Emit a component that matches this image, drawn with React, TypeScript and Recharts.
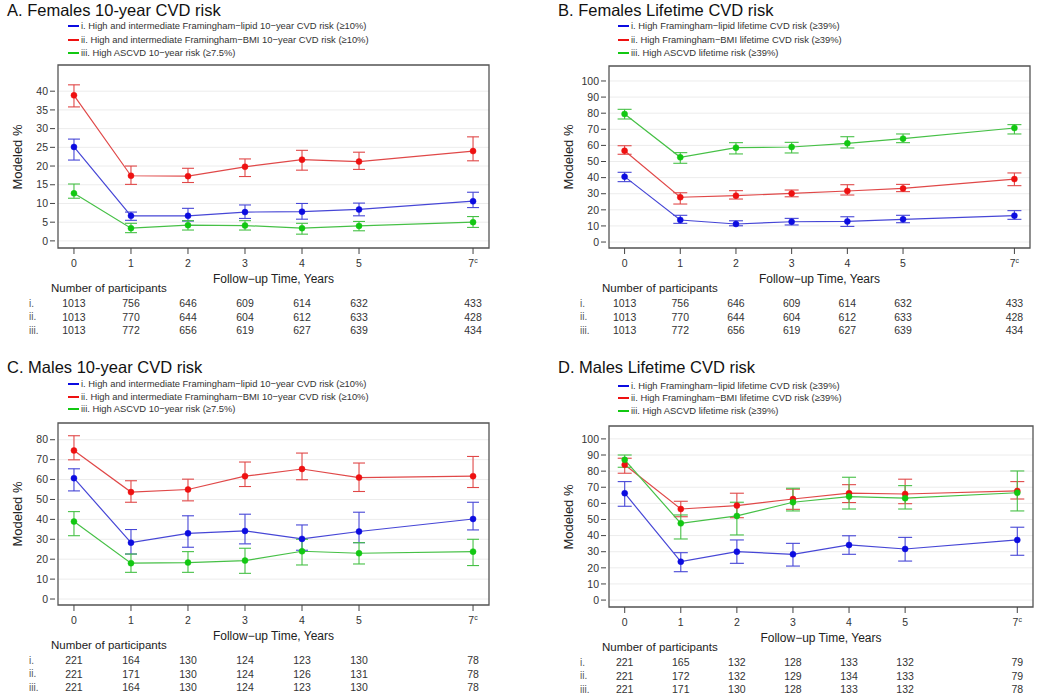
import React from "react";
import { LineChart, Line, XAxis, YAxis, CartesianGrid, ErrorBar, ReferenceArea } from "recharts";

const years = [0, 1, 2, 3, 4, 5, 7];

// A. Females 10-year
const aLipid = [25.1, 6.7, 6.7, 7.7, 7.8, 8.4, 10.6];
const aLipidLo = [21.6, 5.5, 5.3, 6.0, 5.8, 6.7, 8.9];
const aLipidHi = [27.2, 7.7, 8.7, 9.6, 10.0, 10.1, 13.0];
const aBmi = [38.9, 17.4, 17.3, 19.8, 21.7, 21.2, 24.0];
const aBmiLo = [35.8, 15.1, 15.6, 17.2, 18.9, 19.1, 21.4];
const aBmiHi = [41.7, 20.0, 19.4, 21.9, 24.2, 23.7, 27.8];
const aAscvd = [12.7, 3.4, 4.2, 4.1, 3.4, 4.0, 5.0];
const aAscvdLo = [11.4, 2.2, 2.9, 2.9, 1.8, 2.7, 3.6];
const aAscvdHi = [15.2, 4.7, 5.4, 5.4, 4.7, 5.2, 6.5];

// B. Females lifetime
const bLipid = [40.6, 13.7, 11.2, 12.6, 12.8, 14.1, 16.4];
const bLipidLo = [37.5, 11.6, 10.1, 10.6, 9.7, 12.0, 14.1];
const bLipidHi = [43.3, 16.6, 13.2, 14.7, 15.7, 16.6, 19.5];
const bBmi = [56.7, 27.8, 28.8, 30.2, 31.7, 33.3, 39.1];
const bBmiLo = [54.5, 23.6, 26.7, 28.1, 29.2, 31.3, 35.0];
const bBmiHi = [59.8, 30.6, 31.9, 32.3, 35.6, 35.8, 42.9];
const bAscvd = [79.5, 52.6, 58.6, 59.0, 61.3, 64.2, 70.8];
const bAscvdLo = [76.4, 48.9, 54.7, 55.3, 58.4, 61.7, 67.1];
const bAscvdHi = [82.4, 55.5, 61.7, 61.9, 65.4, 67.1, 72.9];

// C. Males 10-year
const cLipid = [60.7, 28.3, 33.0, 34.2, 30.2, 33.9, 40.2];
const cLipidLo = [54.3, 22.6, 26.0, 27.7, 24.5, 28.3, 34.7];
const cLipidHi = [65.4, 34.9, 41.8, 42.6, 37.2, 43.6, 48.6];
const cBmi = [74.6, 53.7, 55.0, 61.7, 65.3, 61.0, 61.7];
const cBmiLo = [69.9, 48.6, 49.3, 56.5, 59.9, 54.0, 56.0];
const cBmiHi = [82.0, 59.4, 60.2, 68.8, 73.3, 68.3, 71.6];
const cAscvd = [38.9, 18.0, 18.3, 19.3, 24.0, 23.0, 23.8];
const cAscvdLo = [31.8, 13.4, 13.4, 12.9, 17.1, 17.6, 16.8];
const cAscvdHi = [43.9, 22.6, 23.8, 25.5, 30.0, 28.3, 30.0];

// D. Males lifetime
const dLipid = [66.3, 23.8, 30.0, 28.4, 34.2, 31.7, 37.3];
const dLipidLo = [58.2, 17.6, 22.8, 21.1, 28.4, 24.2, 27.8];
const dLipidHi = [73.5, 29.4, 37.3, 35.2, 39.9, 38.9, 45.2];
const dBmi = [83.9, 56.5, 58.6, 62.7, 66.3, 65.8, 67.7];
const dBmiLo = [78.7, 51.7, 51.1, 56.3, 60.5, 59.8, 62.7];
const dBmiHi = [88.0, 61.3, 66.3, 68.8, 71.6, 75.0, 73.5];
const dAscvd = [87.0, 47.6, 52.2, 60.7, 64.2, 63.2, 66.6];
const dAscvdLo = [82.4, 37.9, 40.4, 55.3, 56.5, 56.5, 55.3];
const dAscvdHi = [90.0, 52.8, 60.7, 69.4, 76.2, 71.0, 80.1];

// participants per row (i, ii, iii)
const femaleN = [
  [1013, 756, 646, 609, 614, 632, 433],
  [1013, 770, 644, 604, 612, 633, 428],
  [1013, 772, 656, 619, 627, 639, 434],
];
const maleTenN = [
  [221, 164, 130, 124, 123, 130, 78],
  [221, 171, 130, 124, 126, 131, 78],
  [221, 164, 130, 124, 123, 130, 78],
];
const maleLifeN = [
  [221, 165, 132, 128, 133, 132, 79],
  [221, 172, 132, 129, 134, 133, 79],
  [221, 171, 130, 128, 133, 132, 78],
];

const tenYearLabels = [
  "i. High and intermediate Framingham\u2212lipid 10\u2212year CVD risk (\u226510%)",
  "ii. High and intermediate Framingham\u2212BMI 10\u2212year CVD risk (\u226510%)",
  "iii. High ASCVD 10\u2212year risk (\u22657.5%)",
];
const lifetimeLabels = [
  "i. High Framingham\u2212lipid lifetime CVD risk (\u226539%)",
  "ii. High Framingham\u2212BMI lifetime CVD risk (\u226539%)",
  "iii. High ASCVD lifetime risk (\u226539%)",
];
const rowNames = ["i.", "ii.", "iii."];

const ticks0to40 = [0, 5, 10, 15, 20, 25, 30, 35, 40];
const ticks0to80 = [0, 10, 20, 30, 40, 50, 60, 70, 80];
const ticks0to100 = [0, 10, 20, 30, 40, 50, 60, 70, 80, 90, 100];

const lineColors = ["#4646d6", "#e04848", "#46c046"];
const dotColors = ["#0c0ce0", "#ee1111", "#12c812"];
const FONT = "'Liberation Sans', Arial, Helvetica, sans-serif";

type Series = { v: number[]; lo: number[]; hi: number[] };

const build = (series: Series[]) =>
  years.map((t, i) => {
    const row: any = { t };
    series.forEach((s, k) => {
      row["s" + k] = s.v[i];
      row["e" + k] = [s.v[i] - s.lo[i], s.hi[i] - s.v[i]];
    });
    return row;
  });

const panels = [
  {
    title: "A. Females 10-year CVD risk", tx: 7, ty: 10, bx: 58, by: 65, bw: 431, bh: 183,
    yDomain: [-1.9, 47], yTicks: ticks0to40, cap: 6, labels: tenYearLabels, counts: femaleN,
    legX: 68, legY: [26, 39.5, 52.5],
    series: [
      { v: aLipid, lo: aLipidLo, hi: aLipidHi },
      { v: aBmi, lo: aBmiLo, hi: aBmiHi },
      { v: aAscvd, lo: aAscvdLo, hi: aAscvdHi },
    ],
  },
  {
    title: "B. Females Lifetime CVD risk", tx: 558, ty: 10, bx: 609, by: 66, bw: 421, bh: 182,
    yDomain: [-3.7, 109.3], yTicks: ticks0to100, cap: 7, labels: lifetimeLabels, counts: femaleN,
    legX: 618, legY: [26, 40, 53],
    series: [
      { v: bLipid, lo: bLipidLo, hi: bLipidHi },
      { v: bBmi, lo: bBmiLo, hi: bBmiHi },
      { v: bAscvd, lo: bAscvdLo, hi: bAscvdHi },
    ],
  },
  {
    title: "C. Males 10-year CVD risk", tx: 7, ty: 367, bx: 58, by: 423, bw: 431, bh: 182,
    yDomain: [-3, 88.4], yTicks: ticks0to80, cap: 6, labels: tenYearLabels, counts: maleTenN,
    legX: 68, legY: [384, 396.5, 409],
    series: [
      { v: cLipid, lo: cLipidLo, hi: cLipidHi },
      { v: cBmi, lo: cBmiLo, hi: cBmiHi },
      { v: cAscvd, lo: cAscvdLo, hi: cAscvdHi },
    ],
  },
  {
    title: "D. Males Lifetime CVD risk", tx: 558, ty: 367, bx: 609, by: 426, bw: 424, bh: 181,
    yDomain: [-4.3, 108], yTicks: ticks0to100, cap: 7, labels: lifetimeLabels, counts: maleLifeN,
    legX: 618, legY: [385.5, 398, 411],
    series: [
      { v: dLipid, lo: dLipidLo, hi: dLipidHi },
      { v: dBmi, lo: dBmiLo, hi: dBmiHi },
      { v: dAscvd, lo: dAscvdLo, hi: dAscvdHi },
    ],
  },
];

const Txt = ({ x, y, size, anchor = "start", color = "#222", rotate = false, children }: any) => (
  <div
    style={{
      position: "absolute", left: x, top: y, fontSize: size, lineHeight: 1, whiteSpace: "nowrap", color,
      transform: `translate(${anchor === "middle" ? "-50%" : "0"}, -50%)${rotate ? " rotate(-90deg)" : ""}`,
    }}
  >
    {children}
  </div>
);

const rowOffsets = [40, 53.4, 66.7];

const XTick = ({ x, y, payload, counts }: any) => {
  const i = years.indexOf(payload.value);
  return (
    <g>
      <text x={x} y={y} dy="0.71em" textAnchor="middle" fontSize={10.5} fill="#333" fontFamily={FONT}>
        {payload.value}
        {payload.value === 7 ? <tspan fontSize={7} dy={-4}>c</tspan> : null}
      </text>
      {counts.map((row: number[], r: number) => (
        <text key={r} x={x} y={y + rowOffsets[r]} dy="0.71em" textAnchor="middle" fontSize={10.5} fill="#333" fontFamily={FONT}>
          {row[i]}
        </text>
      ))}
    </g>
  );
};

const YTick = ({ x, y, payload }: any) => (
  <g>
    <line x1={x - 8} x2={x - 3} y1={y} y2={y} stroke="#444" />
    <text x={x - 10} y={y} dy="0.355em" textAnchor="end" fontSize={10.5} fill="#333" fontFamily={FONT}>
      {payload.value}
    </text>
  </g>
);

function Panel({ p }: { p: (typeof panels)[number] }) {
  const data = build(p.series);
  const xDomain = [-0.28, 7.28];
  const labelY = p.by + p.bh + 16;
  return (
    <>
      <Txt x={p.tx} y={p.ty} size={16.5} color="#111">{p.title}</Txt>
      {p.labels.map((l, k) => (
        <React.Fragment key={k}>
          <div style={{ position: "absolute", left: p.legX, top: Math.round(p.legY[k] - 1), width: 11, height: 2, background: dotColors[k] }} />
          <Txt x={p.legX + 13} y={p.legY[k]} size={9.4} color="#333">{l}</Txt>
        </React.Fragment>
      ))}
      <Txt x={p.bx - 41} y={p.by + p.bh / 2} size={13} anchor="middle" rotate color="#222">Modeled %</Txt>
      <Txt x={p.bx + p.bw / 2} y={p.by + p.bh + 31} size={12} anchor="middle" color="#222">Follow{"\u2212"}up Time, Years</Txt>
      <Txt x={p.bx - 7} y={labelY + 25} size={11.5} color="#222">Number of participants</Txt>
      {rowNames.map((r, k) => (
        <Txt key={r} x={p.bx - 29} y={labelY + rowOffsets[k]} size={10} color="#555">{r}</Txt>
      ))}
      <div style={{ position: "absolute", left: p.bx - 58, top: p.by - 10 }}>
        <LineChart
          width={p.bw + 58 + 15}
          height={p.bh + 10 + 95}
          data={data}
          margin={{ top: 10, right: 15, bottom: 5, left: 0 }}
        >
          <CartesianGrid vertical={false} stroke="#ececec" />
          <XAxis
            type="number"
            dataKey="t"
            domain={xDomain}
            allowDataOverflow
            ticks={years}
            interval={0}
            height={90}
            axisLine={false}
            tickSize={6}
            tickMargin={6}
            tickLine={{ stroke: "#444" }}
            tick={(props: any) => <XTick {...props} counts={p.counts} />}
          />
          <YAxis
            type="number"
            domain={p.yDomain}
            allowDataOverflow
            ticks={p.yTicks}
            interval={0}
            width={58}
            axisLine={false}
            tickLine={false}
            tickSize={0}
            tickMargin={0}
            tick={(props: any) => <YTick {...props} />}
          />
          {p.series.map((_, k) => (
            <Line
              key={k}
              type="linear"
              dataKey={"s" + k}
              stroke={lineColors[k]}
              strokeWidth={1.2}
              dot={{ r: 3, fill: dotColors[k], stroke: dotColors[k], strokeWidth: 0.5 }}
              isAnimationActive={false}
            >
              <ErrorBar dataKey={"e" + k} width={p.cap} stroke={lineColors[k]} strokeWidth={1.1} direction="y" isAnimationActive={false} />
            </Line>
          ))}
          <ReferenceArea
            x1={xDomain[0]}
            x2={xDomain[1]}
            y1={p.yDomain[0]}
            y2={p.yDomain[1]}
            fill="none"
            stroke="#555"
            strokeWidth={1.3}
            ifOverflow="visible"
          />
        </LineChart>
      </div>
    </>
  );
}

export default function App() {
  return (
    <div style={{ position: "absolute", left: 0, top: 0, width: 1050, height: 698, background: "#fff", fontFamily: FONT }}>
      {panels.map((p) => (
        <Panel key={p.title} p={p} />
      ))}
    </div>
  );
}
